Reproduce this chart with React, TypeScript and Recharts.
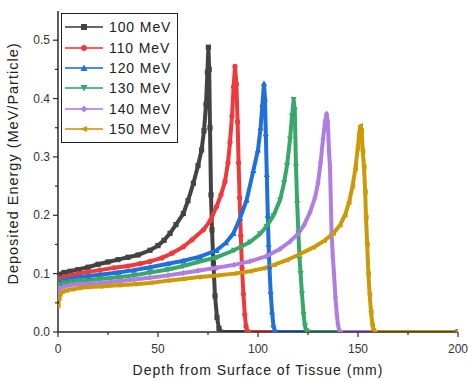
import React from 'react';
import { LineChart, Line, XAxis, YAxis, Legend } from 'recharts';

// depth (mm) and deposited energy (MeV/particle)
const depth100 = [0, 0.5, 1, 3, 6, 10, 15, 20, 25, 30, 35, 40, 46, 50, 53, 56, 59, 62.7, 65, 67.7, 70, 71.8, 73, 74, 74.7, 75.2, 75.6, 76, 76.5, 77, 77.7, 78.5, 79.5, 80.5, 81.2, 200];
const dose100 = [0.083, 0.094, 0.099, 0.102, 0.104, 0.107, 0.111, 0.116, 0.12, 0.124, 0.128, 0.132, 0.14, 0.148, 0.157, 0.169, 0.184, 0.203, 0.225, 0.255, 0.285, 0.312, 0.345, 0.39, 0.445, 0.488, 0.45, 0.35, 0.235, 0.175, 0.118, 0.062, 0.025, 0.006, 0, 0];

const depth110 = [0, 0.5, 1, 3, 6, 10, 15, 21, 28, 35, 41, 46, 52, 57, 62.7, 67, 72.7, 76, 79.3, 81.5, 83.5, 85, 86, 87, 87.8, 88.5, 89.2, 89.8, 90.3, 90.8, 91.4, 92, 92.7, 93.4, 94, 94.6, 95.3, 200];
const dose110 = [0.078, 0.088, 0.092, 0.095, 0.097, 0.1, 0.103, 0.106, 0.11, 0.113, 0.117, 0.121, 0.127, 0.135, 0.146, 0.158, 0.175, 0.19, 0.215, 0.235, 0.258, 0.29, 0.325, 0.37, 0.42, 0.455, 0.425, 0.36, 0.29, 0.23, 0.165, 0.11, 0.065, 0.03, 0.01, 0.002, 0, 0];

const depth120 = [0, 0.5, 1, 3, 6, 10, 15, 21, 30, 38, 46, 55, 62.7, 71, 79.3, 84, 87.7, 91, 94.3, 97.7, 100, 101.3, 102.2, 103, 103.5, 103.9, 104.4, 104.9, 105.3, 105.7, 106.3, 107, 107.7, 108.3, 109, 200];
const dose120 = [0.072, 0.083, 0.087, 0.09, 0.092, 0.094, 0.096, 0.098, 0.102, 0.106, 0.111, 0.117, 0.122, 0.129, 0.14, 0.153, 0.169, 0.195, 0.226, 0.277, 0.312, 0.35, 0.39, 0.426, 0.4, 0.34, 0.27, 0.2, 0.15, 0.112, 0.07, 0.035, 0.012, 0.003, 0, 0];

const depth130 = [0, 0.5, 1, 3, 6, 10, 21, 30, 38, 46, 55, 62.7, 70, 79.3, 88, 96, 101, 104.3, 107.7, 111, 113, 114.5, 116, 117, 117.8, 118.4, 119, 119.6, 120.2, 120.8, 121.3, 122, 122.8, 123.5, 124.2, 125, 200];
const dose130 = [0.066, 0.077, 0.081, 0.084, 0.086, 0.088, 0.091, 0.094, 0.097, 0.102, 0.107, 0.113, 0.12, 0.128, 0.14, 0.154, 0.168, 0.181, 0.199, 0.226, 0.255, 0.285, 0.33, 0.37, 0.398, 0.38, 0.283, 0.22, 0.169, 0.125, 0.1, 0.065, 0.03, 0.01, 0.002, 0, 0];

const depth140 = [0, 0.5, 1, 3, 6, 10, 21, 30, 38, 46, 55, 62.7, 70, 79.3, 88, 96, 104.3, 111, 116, 120, 123, 126, 128.5, 130, 131.3, 132.5, 133.5, 134.3, 134.9, 135.5, 136, 136.8, 137.4, 138, 138.7, 139.4, 140, 140.6, 141.3, 200];
const dose140 = [0.058, 0.07, 0.075, 0.078, 0.08, 0.082, 0.084, 0.087, 0.09, 0.093, 0.097, 0.101, 0.105, 0.11, 0.115, 0.121, 0.13, 0.142, 0.155, 0.168, 0.183, 0.205, 0.23, 0.255, 0.29, 0.33, 0.36, 0.374, 0.36, 0.31, 0.283, 0.169, 0.13, 0.1, 0.06, 0.03, 0.012, 0.003, 0, 0];

const depth150 = [0, 0.5, 1, 2, 4, 7, 10, 15, 21, 30, 38, 46, 55, 62.7, 70, 79.3, 88, 96, 102.7, 108, 114.3, 120, 127.7, 133, 137.7, 141, 143.5, 145.5, 147.3, 148.7, 149.9, 150.6, 151.2, 151.8, 152.4, 153, 153.6, 154, 154.6, 155.2, 155.8, 156.5, 157.2, 157.8, 158.5, 200];
const dose150 = [0.045, 0.058, 0.065, 0.069, 0.071, 0.073, 0.075, 0.077, 0.078, 0.08, 0.082, 0.084, 0.088, 0.091, 0.094, 0.097, 0.1, 0.104, 0.109, 0.115, 0.123, 0.132, 0.145, 0.156, 0.169, 0.183, 0.2, 0.222, 0.25, 0.28, 0.315, 0.34, 0.354, 0.345, 0.31, 0.283, 0.24, 0.197, 0.15, 0.1, 0.065, 0.035, 0.012, 0.003, 0, 0];

const energies = ['100 MeV', '110 MeV', '120 MeV', '130 MeV', '140 MeV', '150 MeV'];
const xTicks = [0, 25, 50, 75, 100, 125, 150, 175, 200];
const yTicks = [0, 0.05, 0.1, 0.15, 0.2, 0.25, 0.3, 0.35, 0.4, 0.45, 0.5, 0.55];

const toPoints = (depth: number[], dose: number[]) =>
  depth.map((d, i) => ({ x: d, y: dose[i] }));

const series = [
  { name: energies[0], color: '#434343', shape: 'square', data: toPoints(depth100, dose100) },
  { name: energies[1], color: '#ee3a3a', shape: 'circle', data: toPoints(depth110, dose110) },
  { name: energies[2], color: '#1f6fdc', shape: 'triangle', data: toPoints(depth120, dose120) },
  { name: energies[3], color: '#37a86a', shape: 'down', data: toPoints(depth130, dose130) },
  { name: energies[4], color: '#b07ee0', shape: 'diamond', data: toPoints(depth140, dose140) },
  { name: energies[5], color: '#cc9a06', shape: 'left', data: toPoints(depth150, dose150) },
];

const FONT = '"Liberation Sans", Arial, sans-serif';
const AXIS = '#2a2a2a';

const Marker = ({ cx, cy, shape, color, s = 3 }: any) => {
  if (cx == null || cy == null) return null;
  switch (shape) {
    case 'square':
      return <rect x={cx - s} y={cy - s} width={2 * s} height={2 * s} fill={color} />;
    case 'circle':
      return <circle cx={cx} cy={cy} r={s} fill={color} />;
    case 'triangle':
      return <polygon points={`${cx},${cy - s - 0.5} ${cx - s - 0.5},${cy + s} ${cx + s + 0.5},${cy + s}`} fill={color} />;
    case 'down':
      return <polygon points={`${cx},${cy + s + 0.5} ${cx - s - 0.5},${cy - s} ${cx + s + 0.5},${cy - s}`} fill={color} />;
    case 'diamond':
      return <polygon points={`${cx},${cy - s - 0.5} ${cx + s},${cy} ${cx},${cy + s + 0.5} ${cx - s},${cy}`} fill={color} />;
    default:
      return <polygon points={`${cx - s - 0.5},${cy} ${cx + s},${cy - s} ${cx + s},${cy + s}`} fill={color} />;
  }
};

const BottomTick = (props: any) => {
  const { x, y, payload } = props;
  const major = payload.value % 50 === 0;
  return (
    <g>
      <line x1={x} y1={y} x2={x} y2={y + (major ? 5 : 3)} stroke={AXIS} strokeWidth={1.2} />
      {major && (
        <text x={x} y={y + 21} textAnchor="middle" fontSize={12} fill="#333" fontFamily={FONT}>
          {payload.value}
        </text>
      )}
    </g>
  );
};

const TopTick = (props: any) => {
  const { x, y, payload } = props;
  const major = payload.value % 50 === 0;
  return <line x1={x} y1={y} x2={x} y2={y + (major ? 5 : 3)} stroke={AXIS} strokeWidth={1.2} />;
};

const isMajorY = (v: number) => Math.round(v * 100) % 10 === 0;

const LeftTick = (props: any) => {
  const { x, y, payload } = props;
  const major = isMajorY(payload.value);
  if (payload.value > 0.52) return null;
  return (
    <g>
      <line x1={x - (major ? 5 : 3)} y1={y} x2={x} y2={y} stroke={AXIS} strokeWidth={1.2} />
      {major && (
        <text x={x - 8} y={y + 4} textAnchor="end" fontSize={12} fill="#333" fontFamily={FONT}>
          {payload.value.toFixed(1)}
        </text>
      )}
    </g>
  );
};

const RightTick = (props: any) => {
  const { x, y, payload } = props;
  if (payload.value > 0.52) return null;
  const major = isMajorY(payload.value);
  return <line x1={x - (major ? 5 : 3)} y1={y} x2={x} y2={y} stroke={AXIS} strokeWidth={1.2} />;
};

const renderLegend = () => (
  <div
    style={{
      border: '1.5px solid #222',
      background: '#fff',
      padding: '3px 6px 3px 2px',
      fontFamily: FONT,
      fontSize: 14,
      color: '#222',
    }}
  >
    {series.map((s) => (
      <div key={s.name} style={{ display: 'flex', alignItems: 'center', height: 20.4 }}>
        <svg width={42} height={12} style={{ marginRight: 3 }}>
          <line x1={1} y1={6} x2={39} y2={6} stroke={s.color} strokeWidth={2} opacity={0.8} />
          <Marker cx={20} cy={6} shape={s.shape} color={s.color} s={3} />
        </svg>
        <span style={{ letterSpacing: 0.9 }}>{s.name}</span>
      </div>
    ))}
  </div>
);

const App = () => {
  return (
    <div style={{ position: 'absolute', left: 0, top: 0, background: '#fff' }}>
      <LineChart width={468} height={381} margin={{ top: 11, right: 10, bottom: 0, left: 0 }}>
        <XAxis
          xAxisId="bottom"
          type="number"
          dataKey="x"
          domain={[0, 200]}
          ticks={xTicks}
          interval={0}
          height={49}
          tickSize={0}
          tickMargin={0}
          tickLine={false}
          tick={<BottomTick />}
          axisLine={{ stroke: AXIS, strokeWidth: 1.5 }}
          allowDataOverflow
          label={{
            value: 'Depth from Surface of Tissue (mm)',
            position: 'insideBottom',
            offset: 6,
            fontSize: 14,
            fill: '#222',
            fontFamily: FONT,
            letterSpacing: 1,
          }}
        />
        <XAxis
          xAxisId="top"
          orientation="top"
          type="number"
          dataKey="x"
          domain={[0, 200]}
          ticks={xTicks}
          interval={0}
          height={0}
          tickSize={0}
          tickMargin={0}
          tickLine={false}
          tick={<TopTick />}
          axisLine={{ stroke: AXIS, strokeWidth: 1.5 }}
        />
        <YAxis
          yAxisId="left"
          domain={[0, 0.55]}
          ticks={yTicks}
          interval={0}
          width={58}
          tickSize={0}
          tickMargin={0}
          tickLine={false}
          tick={<LeftTick />}
          axisLine={{ stroke: AXIS, strokeWidth: 1.5 }}
          allowDataOverflow
          label={{
            content: (p: any) => {
              const vb = p.viewBox;
              const cx = 13;
              const cy = vb.y + vb.height / 2 - 8;
              return (
                <text
                  x={cx}
                  y={cy}
                  transform={`rotate(-90, ${cx}, ${cy})`}
                  textAnchor="middle"
                  dominantBaseline="central"
                  fontSize={14.5}
                  fill="#222"
                  fontFamily={FONT}
                  letterSpacing={1}
                >
                  Deposited Energy (MeV/Particle)
                </text>
              );
            },
          }}
        />
        <YAxis
          yAxisId="right"
          orientation="right"
          domain={[0, 0.55]}
          ticks={yTicks}
          interval={0}
          width={0}
          tickSize={0}
          tickMargin={0}
          tickLine={false}
          tick={<RightTick />}
          axisLine={{ stroke: AXIS, strokeWidth: 1.5 }}
        />
        <Legend
          layout="vertical"
          verticalAlign="middle"
          align="center"
          content={renderLegend}
          wrapperStyle={{ position: 'absolute', left: 61, top: 13, width: 'auto', height: 'auto' }}
        />
        {series.map((s) => (
          <Line
            key={s.name}
            xAxisId="bottom"
            yAxisId="left"
            data={s.data}
            dataKey="y"
            name={s.name}
            type="linear"
            stroke={s.color}
            strokeWidth={4}
            dot={(p: any) => <Marker key={`${s.name}-${p.index}`} cx={p.cx} cy={p.cy} shape={s.shape} color={s.color} s={2.6} />}
            activeDot={false}
            isAnimationActive={false}
          />
        ))}
      </LineChart>
    </div>
  );
};

export default App;
